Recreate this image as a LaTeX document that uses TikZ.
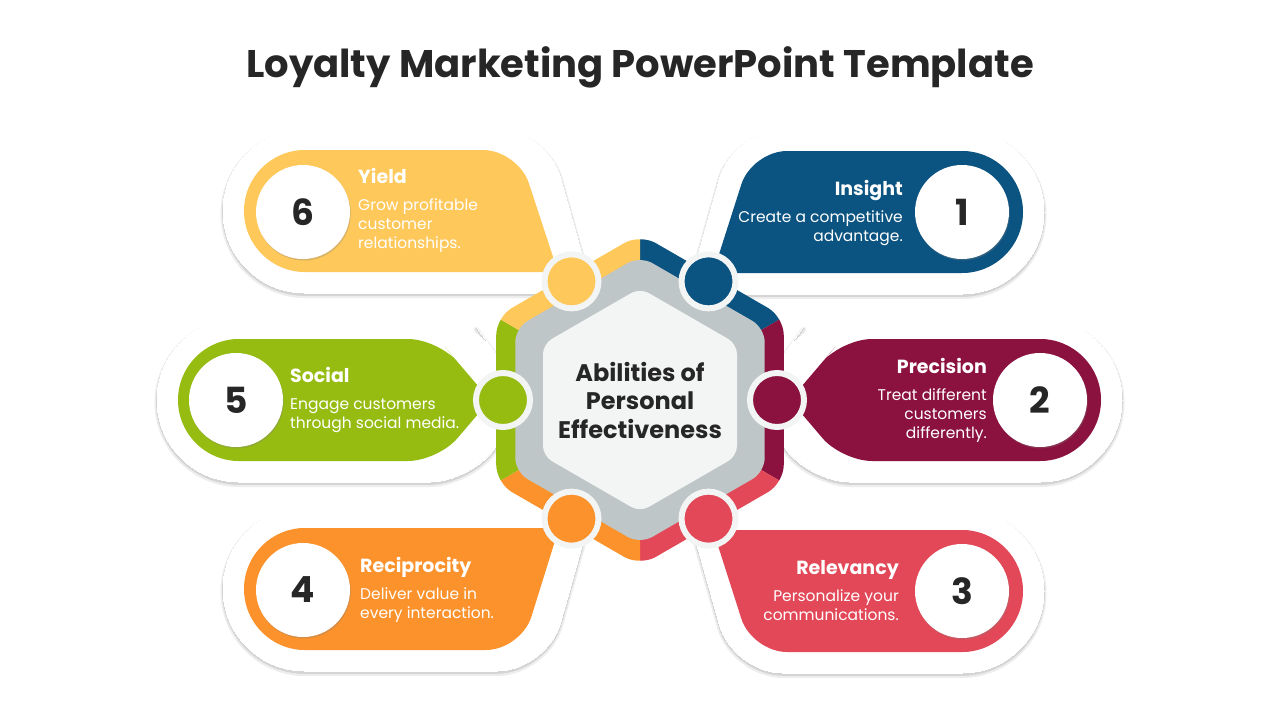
\documentclass[tikz,border=0pt]{standalone}
\usepackage{fontspec}
\setmainfont{Poppins}
\usepackage{xcolor}
\definecolor{insblue}{RGB}{11,83,129}
\definecolor{premaroon}{RGB}{139,17,62}
\definecolor{relred}{RGB}{226,72,87}
\definecolor{recorange}{RGB}{252,146,44}
\definecolor{socgreen}{RGB}{150,188,18}
\definecolor{yldyellow}{RGB}{254,200,90}
\definecolor{hexgray}{RGB}{191,198,199}
\definecolor{hexlight}{RGB}{243,245,245}
\definecolor{txtdark}{RGB}{38,38,38}
\usetikzlibrary{shadows}

\tikzset{
  numdisc/.style={circle, fill=white, minimum size=94pt, inner sep=0pt,
    font=\fontsize{36}{36}\selectfont\bfseries, text=txtdark,
    drop shadow={shadow xshift=0.8pt, shadow yshift=-1.5pt, opacity=0.3}},
  ringdot/.style={circle, draw=hexlight, line width=6pt, minimum size=54pt, inner sep=0pt},
  headtxt/.style={font=\fontsize{19}{19}\selectfont\bfseries, text=white, inner sep=0pt},
  bodytxt/.style={font=\fontsize{15.5}{19}\selectfont, text=white, inner sep=0pt},
}

\begin{document}
\begin{tikzpicture}[x=1pt, y=-1pt]
\useasboundingbox[fill=white] (0,0) rectangle (1280,720);

\node[font=\fontsize{38.5}{38.5}\selectfont\bfseries, text=txtdark, anchor=base] (title) at (640,77)
     {Loyalty Marketing PowerPoint Template};

% === White petals (two soft shadow layers, then white) ===
\foreach \dy/\lw/\col in {2.5/5/black!7, 1.8/2/black!17, 0/0/white} {
\begin{scope}[shift={(0,\dy)}, fill=\col, draw=\col, line width=\lw pt, line join=round]
  % Insight
  \filldraw (850,294) -- (687,294) -- (710,212) [rounded corners=50pt] -- (733,130) -- (1012,130) -- (1012,294) -- cycle;
  \filldraw (962,212) circle (82);
  % Precision
  \filldraw (780,359) -- (750,400) -- (780,441) [rounded corners=40pt] -- (810,482) -- (1080,482) -- (1080,318) -- (810,318) -- cycle;
  \filldraw (1040,400) circle (82);
  % Relevancy
  \filldraw (850,509) -- (687,509) -- (710,591) [rounded corners=50pt] -- (733,673) -- (1012,673) -- (1012,509) -- cycle;
  \filldraw (962,591) circle (82);
  % Reciprocity
  \filldraw (420,507) -- (593,507) -- (570,589) [rounded corners=50pt] -- (547,671) -- (255,671) -- (255,507) -- cycle;
  \filldraw (305,589) circle (82);
  % Social
  \filldraw (500,359) -- (530,400) -- (500,441) [rounded corners=40pt] -- (470,482) -- (199,482) -- (199,318) -- (470,318) -- cycle;
  \filldraw (239,400) circle (82);
  % Yield
  \filldraw (420,293) -- (593,293) -- (570,211) [rounded corners=50pt] -- (547,129) -- (255,129) -- (255,293) -- cycle;
  \filldraw (305,211) circle (82);
\end{scope}
}

% === Coloured petals ===
\fill[insblue] (850,273) -- (713,273) -- (732.5,212) [rounded corners=35pt] -- (752,151) -- (997,151) -- (997,273) -- cycle;
\fill[insblue] (962,212) circle (61);

\fill[premaroon] (816,369.5) -- (790,400) -- (816,430.5) [rounded corners=30pt] -- (842,461) -- (1070,461) -- (1070,339) -- (842,339) -- cycle;
\fill[premaroon] (1040,400) circle (61);

\fill[relred] (850,530) -- (713,530) -- (732.5,591) [rounded corners=35pt] -- (752,652) -- (997,652) -- (997,530) -- cycle;
\fill[relred] (962,591) circle (61);

\fill[recorange] (420,528) -- (559,528) -- (540,589) [rounded corners=35pt] -- (521,650) -- (270,650) -- (270,528) -- cycle;
\fill[recorange] (305,589) circle (61);

\fill[socgreen] (464,369.5) -- (490,400) -- (464,430.5) [rounded corners=30pt] -- (438,461) -- (209,461) -- (209,339) -- (438,339) -- cycle;
\fill[socgreen] (239,400) circle (61);

\fill[yldyellow] (420,272) -- (558,272) -- (538,211) [rounded corners=35pt] -- (518,150) -- (270,150) -- (270,272) -- cycle;
\fill[yldyellow] (305,211) circle (61);

% === Hexagon hub ===
\begin{scope}[shift={(640,400)}]
  \begin{scope}
    \clip[rounded corners=18pt] (-90:166) -- (-30:166) -- (30:166) -- (90:166) -- (150:166) -- (210:166) -- cycle;
    \fill[insblue] (0,0) -- (-90:230) -- (-30:230) -- cycle;
    \fill[premaroon] (0,0) -- (-30:230) -- (30:230) -- cycle;
    \fill[relred] (0,0) -- (30:230) -- (90:230) -- cycle;
    \fill[recorange] (0,0) -- (90:230) -- (150:230) -- cycle;
    \fill[socgreen] (0,0) -- (150:230) -- (210:230) -- cycle;
    \fill[yldyellow] (0,0) -- (210:230) -- (270:230) -- cycle;
  \end{scope}
  \fill[hexgray, rounded corners=14pt] (-90:144) -- (-30:144) -- (30:144) -- (90:144) -- (150:144) -- (210:144) -- cycle;
  \fill[hexlight, rounded corners=10pt] (-90:112) -- (-30:112) -- (30:112) -- (90:112) -- (150:112) -- (210:112) -- cycle;

  \node[ringdot, fill=insblue] (dIns) at (-60:137) {};
  \node[ringdot, fill=premaroon] (dPre) at (0:137) {};
  \node[ringdot, fill=relred] (dRel) at (60:137) {};
  \node[ringdot, fill=recorange] (dRec) at (120:137) {};
  \node[ringdot, fill=socgreen] (dSoc) at (180:137) {};
  \node[ringdot, fill=yldyellow] (dYld) at (240:137) {};
\end{scope}

\node[font=\fontsize{24}{28.5}\selectfont\bfseries, text=txtdark, align=center] (core) at (640,400)
     {Abilities of\\Personal\\Effectiveness};

% === Number discs ===
\node[numdisc] (n1) at (962,212) {1};
\node[numdisc] (n2) at (1040,400) {2};
\node[numdisc] (n3) at (962,591) {3};
\node[numdisc] (n4) at (303,590) {4};
\node[numdisc] (n5) at (236,400) {5};
\node[numdisc] (n6) at (303,212) {6};

% === Texts ===
\node[headtxt, anchor=base east] (hIns) at (903,195) {Insight};
\node[bodytxt, anchor=base east] (bIns1) at (903,222.5) {Create a competitive};
\node[bodytxt, anchor=base east] (bIns2) at (903,241.5) {advantage.};

\node[headtxt, anchor=base east] (hPre) at (987,373) {Precision};
\node[bodytxt, anchor=base east] (bPre1) at (987,400.5) {Treat different};
\node[bodytxt, anchor=base east] (bPre2) at (987,419.5) {customers};
\node[bodytxt, anchor=base east] (bPre3) at (987,438.5) {differently.};

\node[headtxt, anchor=base east] (hRel) at (899,574) {Relevancy};
\node[bodytxt, anchor=base east] (bRel1) at (899,601.5) {Personalize your};
\node[bodytxt, anchor=base east] (bRel2) at (899,620.5) {communications.};

\node[headtxt, anchor=base west] (hRec) at (360,572) {Reciprocity};
\node[bodytxt, anchor=base west] (bRec1) at (360,599.5) {Deliver value in};
\node[bodytxt, anchor=base west] (bRec2) at (360,618.5) {every interaction.};

\node[headtxt, anchor=base west] (hSoc) at (290,382) {Social};
\node[bodytxt, anchor=base west] (bSoc1) at (290,409.5) {Engage customers};
\node[bodytxt, anchor=base west] (bSoc2) at (290,428.5) {through social media.};

\node[headtxt, anchor=base west] (hYld) at (358,183) {Yield};
\node[bodytxt, anchor=base west] (bYld1) at (358,210.5) {Grow profitable};
\node[bodytxt, anchor=base west] (bYld2) at (358,229.5) {customer};
\node[bodytxt, anchor=base west] (bYld3) at (358,248.5) {relationships.};

\end{tikzpicture}
\end{document}
